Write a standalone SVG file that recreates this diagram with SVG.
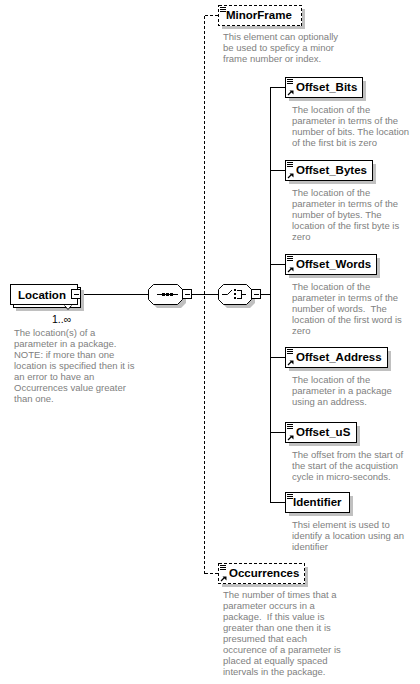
<svg xmlns="http://www.w3.org/2000/svg" xmlns:xlink="http://www.w3.org/1999/xlink" width="420" height="684" viewBox="0 0 420 684">
<style>
  .bg{fill:#ffffff}
  .box{fill:#ffffff;stroke:#000000;stroke-width:1;shape-rendering:crispEdges}
  .dbox{fill:#ffffff;stroke:#000000;stroke-width:1;stroke-dasharray:3,2;shape-rendering:crispEdges}
  .shadow{fill:#c0c0c0;stroke:none;shape-rendering:crispEdges}
  .comp{fill:#ffffff;stroke:#000000;stroke-width:1}
  .cshadow{fill:#c0c0c0;stroke:none}
  .line{stroke:#000000;stroke-width:1;fill:none;shape-rendering:crispEdges}
  .dline{stroke:#000000;stroke-width:1;fill:none;stroke-dasharray:3,2;shape-rendering:crispEdges}
  .title{font-family:"Liberation Sans",Arial,sans-serif;font-weight:bold;font-size:11.5px;fill:#000000}
  .desc{font-family:"Liberation Sans",Arial,sans-serif;font-size:9.5px;fill:#808080}
  .mult{font-family:"Liberation Sans",Arial,sans-serif;font-size:10.5px;fill:#000000}
</style>
<defs>
  <g id="icon-lines">
    <path d="M2,2.5 H8 M2,4.5 H8 M2,6.5 H8" stroke="#000" stroke-width="1" fill="none" shape-rendering="crispEdges"/>
  </g>
  <g id="icon-ref">
    <path d="M3,18 L6.5,14.5" stroke="#000" stroke-width="1.2" fill="none"/>
    <path d="M4.5,13.5 L8.5,13.5 L8.5,17.5 Z" fill="#000"/>
  </g>
  <g id="minus">
    <rect x="0.5" y="0.5" width="9" height="9" fill="#fff" stroke="#000" stroke-width="1" shape-rendering="crispEdges"/>
    <path d="M2.5,5 H7.5" stroke="#000" stroke-width="1" shape-rendering="crispEdges"/>
  </g>
</defs>
<rect class="bg" x="0" y="0" width="420" height="684"/>

<g id="connectors">
  <path class="line" d="M81,294.5 H148"/>
  <path class="line" d="M192,294.5 H218"/>
  <path class="line" d="M260,294.5 H270.5"/>
  <path class="line" d="M270.5,87 V502.5"/>
  <path class="line" d="M270.5,87.5 H285 M270.5,170.5 H285 M270.5,264.5 H285 M270.5,357.5 H285 M270.5,432.5 H285 M270.5,502.5 H285"/>
  <path class="dline" d="M204.5,15.5 V573.5"/>
  <path class="dline" d="M204.5,15.5 H218 M204.5,573.5 H218"/>
</g>

<g id="location">
  <rect class="shadow" x="16" y="290" width="68" height="21"/>
  <rect class="box" x="13.5" y="287.5" width="67" height="20"/>
  <rect class="box" x="10.5" y="284.5" width="67" height="20"/>
  <text class="title" x="18" y="299">Location</text>
  <use xlink:href="#minus" x="71" y="289"/>
  <path d="M64.5,305.5 L68,309.5 L71.5,305.5" stroke="#000" stroke-width="1" fill="#fff"/>
  <text class="mult" x="52" y="323">1..∞</text>
  <text class="desc" x="14" y="336">The location(s) of a</text>
  <text class="desc" x="14" y="347">parameter in a package.</text>
  <text class="desc" x="14" y="358">NOTE: if more than one</text>
  <text class="desc" x="14" y="369">location is specified then it is</text>
  <text class="desc" x="14" y="380">an error to have an</text>
  <text class="desc" x="14" y="391">Occurrences value greater</text>
  <text class="desc" x="14" y="402">than one.</text>
</g>

<g id="sequence">
  <path class="cshadow" d="M157,288 H181 L186,293 V303 L181,308 H157 L152,303 V293 Z"/>
  <path class="comp" d="M153.5,284.5 H177.5 L182.5,289.5 V299.5 L177.5,304.5 H153.5 L148.5,299.5 V289.5 Z"/>
  <path class="line" d="M157,294.5 H178"/>
  <rect x="162" y="293" width="3" height="3" fill="#000"/>
  <rect x="166" y="293" width="3" height="3" fill="#000"/>
  <rect x="170" y="293" width="3" height="3" fill="#000"/>
  <use xlink:href="#minus" x="182" y="289"/>
</g>

<g id="choice">
  <path class="cshadow" d="M227,288 H250 L255,293 V303 L250,308 H227 L222,303 V293 Z"/>
  <path class="comp" d="M223.5,284.5 H246.5 L251.5,289.5 V299.5 L246.5,304.5 H223.5 L218.5,299.5 V289.5 Z"/>
  <path d="M222,294.5 H227.5 L232,290" stroke="#000" stroke-width="1" fill="none"/>
  <rect x="234" y="289" width="2" height="2" fill="#000"/>
  <rect x="234" y="293" width="2" height="2" fill="#000"/>
  <rect x="234" y="297" width="2" height="2" fill="#000"/>
  <path class="line" d="M237,290.5 H241.5 V298.5 H237 M241.5,294.5 H246"/>
  <use xlink:href="#minus" x="251" y="289"/>
</g>

<g id="minorframe">
  <rect class="shadow" x="222" y="9" width="83" height="20"/>
  <rect class="dbox" x="218.5" y="5.5" width="83" height="20"/>
  <use xlink:href="#icon-lines" x="218" y="5"/>
  <text class="title" x="226" y="19">MinorFrame</text>
  <text class="desc" x="223" y="40">This element can optionally</text>
  <text class="desc" x="223" y="51">be used to speficy a minor</text>
  <text class="desc" x="223" y="62">frame number or index.</text>
</g>

<g id="offset_bits">
  <rect class="shadow" x="289" y="81" width="77" height="20"/>
  <rect class="box" x="285.5" y="77.5" width="77" height="20"/>
  <use xlink:href="#icon-lines" x="285" y="77"/>
  <use xlink:href="#icon-ref" x="285" y="77"/>
  <text class="title" x="296" y="91">Offset_Bits</text>
  <text class="desc" x="292" y="113">The location of the</text>
  <text class="desc" x="292" y="124">parameter in terms of the</text>
  <text class="desc" x="292" y="135">number of bits. The location</text>
  <text class="desc" x="292" y="146">of the first bit is zero</text>
</g>

<g id="offset_bytes">
  <rect class="shadow" x="289" y="164" width="87" height="20"/>
  <rect class="box" x="285.5" y="160.5" width="87" height="20"/>
  <use xlink:href="#icon-lines" x="285" y="160"/>
  <use xlink:href="#icon-ref" x="285" y="160"/>
  <text class="title" x="296" y="174">Offset_Bytes</text>
  <text class="desc" x="292" y="196">The location of the</text>
  <text class="desc" x="292" y="207">parameter in terms of the</text>
  <text class="desc" x="292" y="218">number of bytes. The</text>
  <text class="desc" x="292" y="229">location of the first byte is</text>
  <text class="desc" x="292" y="240">zero</text>
</g>

<g id="offset_words">
  <rect class="shadow" x="289" y="258" width="91" height="20"/>
  <rect class="box" x="285.5" y="254.5" width="91" height="20"/>
  <use xlink:href="#icon-lines" x="285" y="254"/>
  <use xlink:href="#icon-ref" x="285" y="254"/>
  <text class="title" x="296" y="268">Offset_Words</text>
  <text class="desc" x="292" y="290">The location of the</text>
  <text class="desc" x="292" y="301">parameter in terms of the</text>
  <text class="desc" x="292" y="312" xml:space="preserve">number of words.  The</text>
  <text class="desc" x="292" y="323">location of the first word is</text>
  <text class="desc" x="292" y="334">zero</text>
</g>

<g id="offset_address">
  <rect class="shadow" x="289" y="351" width="102" height="20"/>
  <rect class="box" x="285.5" y="347.5" width="102" height="20"/>
  <use xlink:href="#icon-lines" x="285" y="347"/>
  <use xlink:href="#icon-ref" x="285" y="347"/>
  <text class="title" x="296" y="361">Offset_Address</text>
  <text class="desc" x="292" y="383">The location of the</text>
  <text class="desc" x="292" y="394">parameter in a package</text>
  <text class="desc" x="292" y="405">using an address.</text>
</g>

<g id="offset_us">
  <rect class="shadow" x="289" y="426" width="71" height="20"/>
  <rect class="box" x="285.5" y="422.5" width="71" height="20"/>
  <use xlink:href="#icon-lines" x="285" y="422"/>
  <use xlink:href="#icon-ref" x="285" y="422"/>
  <text class="title" x="296" y="436">Offset_uS</text>
  <text class="desc" x="292" y="458">The offset from the start of</text>
  <text class="desc" x="292" y="469">the start of the acquistion</text>
  <text class="desc" x="292" y="480">cycle in micro-seconds.</text>
</g>

<g id="identifier">
  <rect class="shadow" x="289" y="496" width="64" height="20"/>
  <rect class="box" x="285.5" y="492.5" width="64" height="20"/>
  <use xlink:href="#icon-lines" x="285" y="492"/>
  <text class="title" x="293" y="506">Identifier</text>
  <text class="desc" x="292" y="528">Thsi element is used to</text>
  <text class="desc" x="292" y="539">identify a location using an</text>
  <text class="desc" x="292" y="550">identifier</text>
</g>

<g id="occurrences">
  <rect class="shadow" x="222" y="567" width="86" height="20"/>
  <rect class="dbox" x="218.5" y="563.5" width="86" height="20"/>
  <use xlink:href="#icon-lines" x="218" y="563"/>
  <use xlink:href="#icon-ref" x="218" y="563"/>
  <text class="title" x="229" y="577">Occurrences</text>
  <text class="desc" x="223" y="598">The number of times that a</text>
  <text class="desc" x="223" y="609">parameter occurs in a</text>
  <text class="desc" x="223" y="620" xml:space="preserve">package.  If this value is</text>
  <text class="desc" x="223" y="631">greater than one then it is</text>
  <text class="desc" x="223" y="642">presumed that each</text>
  <text class="desc" x="223" y="653">occurence of a parameter is</text>
  <text class="desc" x="223" y="664">placed at equally spaced</text>
  <text class="desc" x="223" y="675">intervals in the package.</text>
</g>
</svg>
